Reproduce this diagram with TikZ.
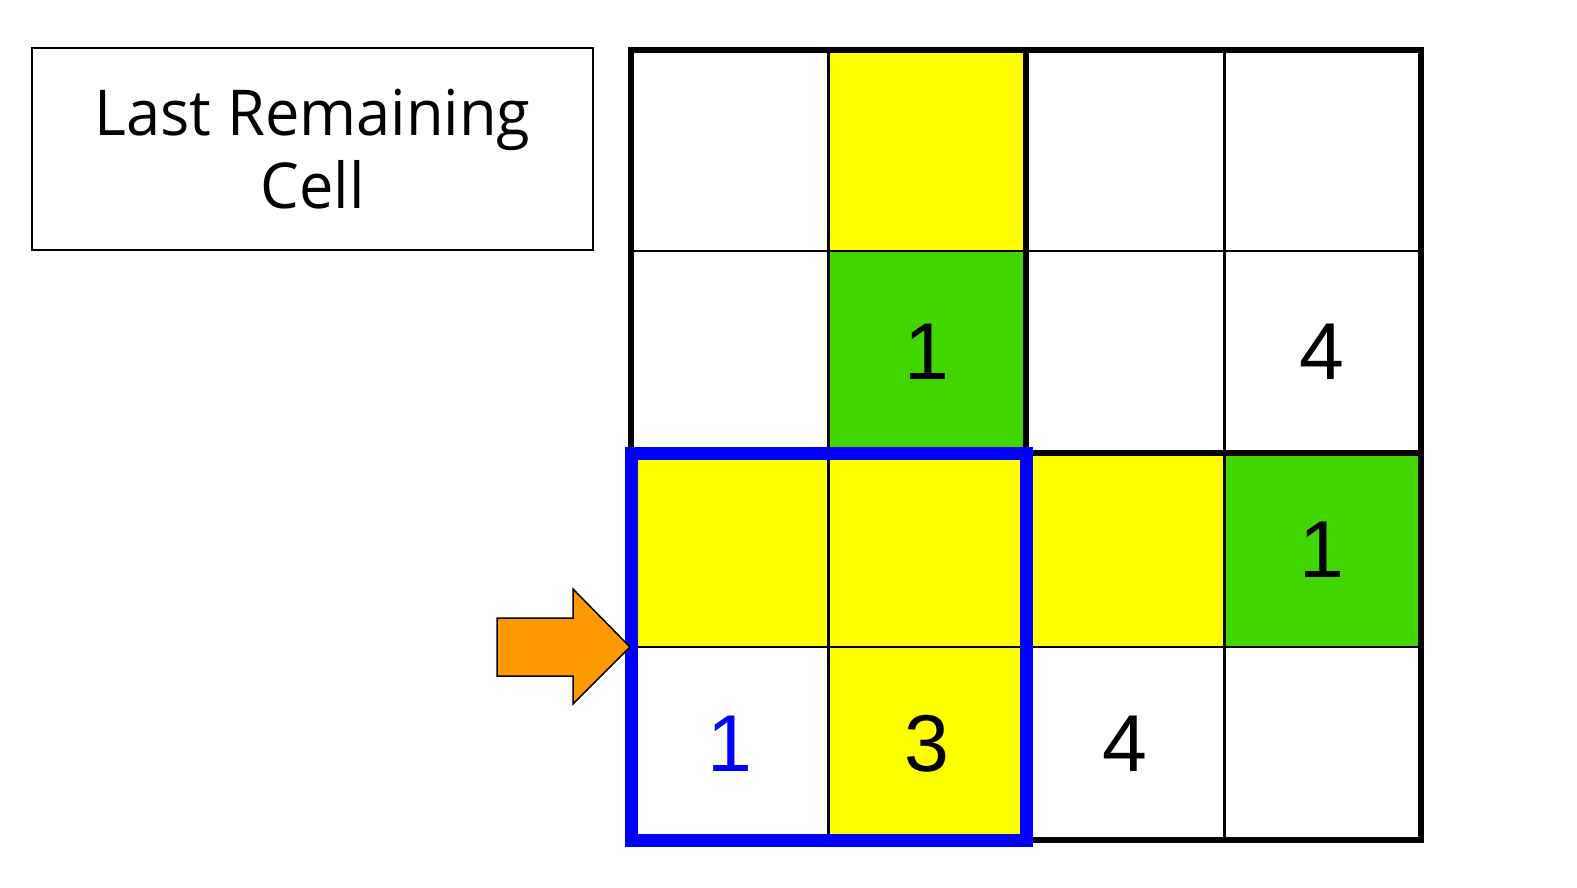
\documentclass[tikz,border=0pt]{standalone}
\usepackage{fontspec}
\setmainfont{Open Sans}
\newfontfamily\titlefont[FakeStretch=0.97]{Open Sans}
\newfontfamily\digitfont{Liberation Sans}
\definecolor{cellyellow}{RGB}{255,255,0}
\definecolor{cellgreen}{RGB}{66,214,0}
\definecolor{arroworange}{RGB}{255,153,0}
\definecolor{markblue}{RGB}{0,0,255}
\tikzset{
  thinline/.style={line width=1.7pt, black},
  thickline/.style={line width=3.4pt, black},
  digit/.style={font=\digitfont\fontsize{45.9}{50}\selectfont, inner sep=0pt},
  yellowcell/.style={fill=cellyellow},
  greencell/.style={fill=cellgreen},
}
\begin{document}
\begin{tikzpicture}[x=0.02cm,y=-0.02cm]
\useasboundingbox (0,0) rectangle (1577,888);
% title box
\node[draw, line width=0.85pt, minimum width=11.22cm, minimum height=4.04cm, inner sep=0pt,
  align=center, font=\titlefont\fontsize{36}{41.4}\selectfont] (title) at (312.5,149) {Last Remaining\\Cell};
% cell fills
\fill[yellowcell] (828.5,50) rectangle (1026,251);
\fill[greencell] (828.5,251) rectangle (1026,453);
\fill[yellowcell] (631,453) rectangle (1224,647);
\fill[greencell] (1224,453) rectangle (1421,647);
\fill[yellowcell] (828.5,647) rectangle (1026,840);
% thin lines
\draw[thinline] (828.5,50) -- (828.5,840);
\draw[thinline] (1224,50) -- (1224,840);
\draw[thinline] (631,251) -- (1421,251);
\draw[thinline] (631,647) -- (1421,647);
% thick lines
\draw[thickline] (1026,50) -- (1026,840);
\draw[thickline] (631,453) -- (1421,453);
\draw[thickline] (631,50) rectangle (1421,840);
% blue box
\draw[markblue, line width=7.4pt] (631,453) rectangle (1026,840);
% digits
\node[digit] (r1c1) at (927.25,352) {1};
\node[digit] (r1c3) at (1322.25,352) {4};
\node[digit] (r2c3) at (1322.25,550) {1};
\node[digit, text=markblue] (r3c0) at (729.75,743.5) {1};
\node[digit] (r3c1) at (927.25,743.5) {3};
\node[digit] (r3c2) at (1124.75,743.5) {4};
% arrow
\draw[fill=arroworange, line width=0.85pt, line join=miter] (497,618) -- (573,618) -- (573,589) -- (630,647) -- (573,704) -- (573,676) -- (497,676) -- cycle;
\end{tikzpicture}
\end{document}
